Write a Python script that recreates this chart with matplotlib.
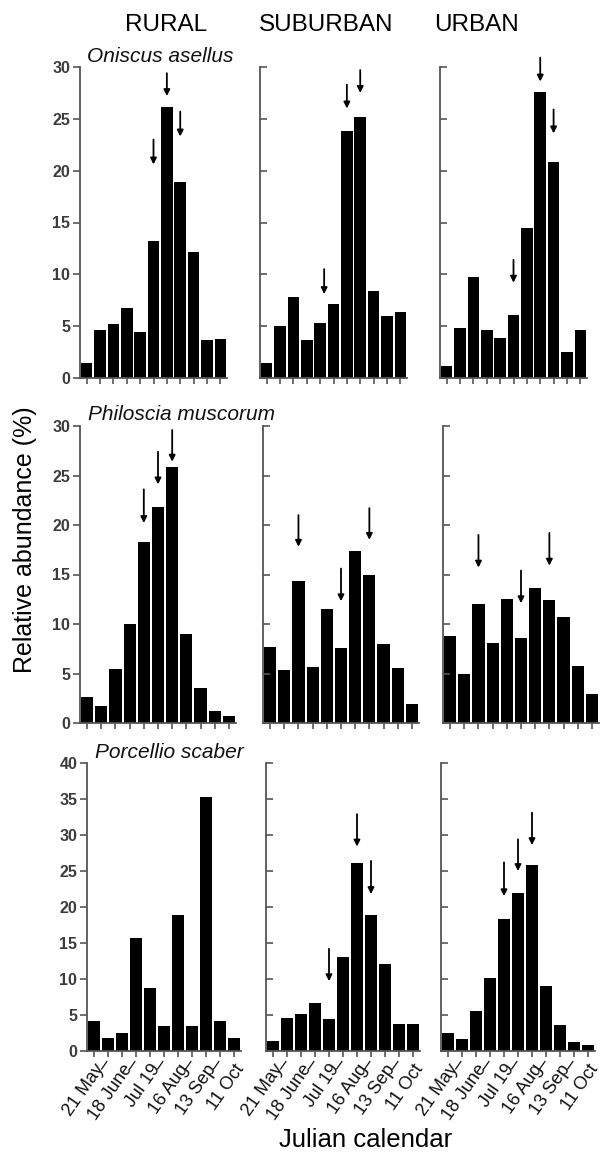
import numpy as np
import matplotlib
matplotlib.use("Agg")
import matplotlib.pyplot as plt

plt.rcParams['font.family'] = ['Liberation Sans', 'DejaVu Sans']

# sampling dates (every other tick only shows a dash)
dates = ['21 May', '_', '18 June', '_', 'Jul 19', '_', '16 Aug', '_', '13 Sep', '_', '11 Oct']
habitats = ['RURAL', 'SUBURBAN', 'URBAN']
species = ['Oniscus asellus', 'Philoscia muscorum', 'Porcellio scaber']

# relative abundance (%) per date
oniscus_rural = [1.4, 4.6, 5.2, 6.8, 4.4, 13.2, 26.1, 18.9, 12.2, 3.7, 3.8]
oniscus_suburban = [1.4, 5.0, 7.8, 3.7, 5.3, 7.1, 23.8, 25.2, 8.4, 6.0, 6.4]
oniscus_urban = [1.2, 4.8, 9.7, 4.6, 3.9, 6.1, 14.5, 27.6, 20.8, 2.5, 4.6]

philoscia_rural = [2.6, 1.7, 5.5, 10.0, 18.3, 21.8, 25.9, 9.0, 3.5, 1.2, 0.7]
philoscia_suburban = [7.7, 5.4, 14.3, 5.7, 11.5, 7.6, 17.4, 15.0, 8.0, 5.6, 1.9]
philoscia_urban = [8.8, 5.0, 12.0, 8.1, 12.5, 8.6, 13.6, 12.4, 10.7, 5.8, 2.9]

porcellio_rural = [4.2, 1.8, 2.5, 15.7, 8.7, 3.5, 18.9, 3.5, 35.3, 4.2, 1.8]
porcellio_suburban = [1.4, 4.6, 5.2, 6.7, 4.4, 13.1, 26.1, 18.9, 12.1, 3.7, 3.8]
porcellio_urban = [2.5, 1.7, 5.6, 10.1, 18.4, 21.9, 25.9, 9.0, 3.6, 1.2, 0.8]

# arrows: (date index, arrow start value, arrow tip value)
arrows_oniscus_rural = [(5, 23.0, 20.6), (6, 29.4, 27.2), (7, 25.7, 23.3)]
arrows_oniscus_suburban = [(4.3, 10.5, 8.1), (6, 28.3, 26.0), (7, 29.7, 27.5)]
arrows_oniscus_urban = [(5, 11.4, 9.2), (7, 30.9, 28.6), (8, 25.9, 23.6)]
arrows_philoscia_rural = [(4, 23.6, 20.2), (5, 27.4, 24.1), (6, 29.6, 26.4)]
arrows_philoscia_suburban = [(2, 21.0, 17.8), (5, 15.6, 12.3), (7, 21.7, 18.5)]
arrows_philoscia_urban = [(2, 19.0, 15.7), (5, 15.4, 12.1), (7, 19.2, 15.9)]
arrows_porcellio_rural = []
arrows_porcellio_suburban = [(4, 14.2, 9.7), (6, 32.9, 28.4), (7, 26.4, 21.8)]
arrows_porcellio_urban = [(4, 26.2, 21.5), (5, 29.4, 25.0), (6, 33.1, 28.6)]

ymax_rows = [30, 30, 40]

values = [
    [oniscus_rural, oniscus_suburban, oniscus_urban],
    [philoscia_rural, philoscia_suburban, philoscia_urban],
    [porcellio_rural, porcellio_suburban, porcellio_urban],
]
arrows = [
    [arrows_oniscus_rural, arrows_oniscus_suburban, arrows_oniscus_urban],
    [arrows_philoscia_rural, arrows_philoscia_suburban, arrows_philoscia_urban],
    [arrows_porcellio_rural, arrows_porcellio_suburban, arrows_porcellio_urban],
]

W, H = 600, 1155
fig = plt.figure(figsize=(W / 100, H / 100), dpi=100)

# panel geometry in pixels
row_top = [67, 426, 763]
row_bottom = [378, 723, 1051]
row_lefts = [[80, 260, 440], [80, 263, 443], [87, 266, 441]]
row_width = [147, 156, 154]

axis_grey = '#555555'

for r in range(3):
    for c in range(3):
        left = row_lefts[r][c]
        ax = fig.add_axes([left / W, 1 - row_bottom[r] / H,
                           row_width[r] / W, (row_bottom[r] - row_top[r]) / H])
        x = np.arange(len(dates))
        ax.bar(x, values[r][c], width=0.86, color='black')
        ax.set_xlim(-0.5, len(dates) - 0.5)
        ax.set_ylim(0, ymax_rows[r])

        for s in ['top', 'right']:
            ax.spines[s].set_visible(False)
        for s in ['left', 'bottom']:
            ax.spines[s].set_color(axis_grey)
            ax.spines[s].set_linewidth(1.3)

        ax.set_yticks(np.arange(0, ymax_rows[r] + 1, 5))
        if c == 0:
            ax.tick_params(axis='y', direction='out', length=5, width=1.2,
                           color=axis_grey, labelsize=11.5, labelcolor='#3c3c3c', pad=2)
            for lab in ax.get_yticklabels():
                lab.set_fontweight('bold')
        else:
            ax.tick_params(axis='y', direction='in', length=5, width=1.2,
                           color=axis_grey, labelleft=False)

        ax.set_xticks(x)
        ax.tick_params(axis='x', direction='out', length=4, width=1.2, color=axis_grey)
        if r == 2:
            ax.set_xticklabels(dates, rotation=55, ha='right', rotation_mode='anchor',
                               fontsize=13, color='#111111')
            # dashes sit just after the previous date, not over the next one
            for lab in ax.get_xticklabels():
                if lab.get_text() == '_':
                    lab.set_va('bottom')
        else:
            ax.set_xticklabels([])

        for xi, y0, y1 in arrows[r][c]:
            ax.annotate('', xy=(xi, y1), xytext=(xi, y0), annotation_clip=False,
                        arrowprops=dict(arrowstyle='-|>', color='black', lw=1.3,
                                        mutation_scale=9, shrinkA=0, shrinkB=0))

        if c == 0:
            ax.text(0.05, 1.035 if r != 1 else 1.04, species[r], transform=ax.transAxes,
                    fontsize=15, style='italic', color='#111111', va='center', ha='left')

# column titles
for title, xc in zip(habitats, [166, 326, 477]):
    fig.text(xc / W, 1 - 25 / H, title, fontsize=17.5, ha='center', va='center')

fig.text(25 / W, 1 - 540 / H, 'Relative abundance (%)', rotation=90, fontsize=18,
         ha='center', va='center')
fig.text(366 / W, 1 - 1140 / H, 'Julian calendar', fontsize=18.5, ha='center', va='center')

fig.savefig('out.png', dpi=100)
